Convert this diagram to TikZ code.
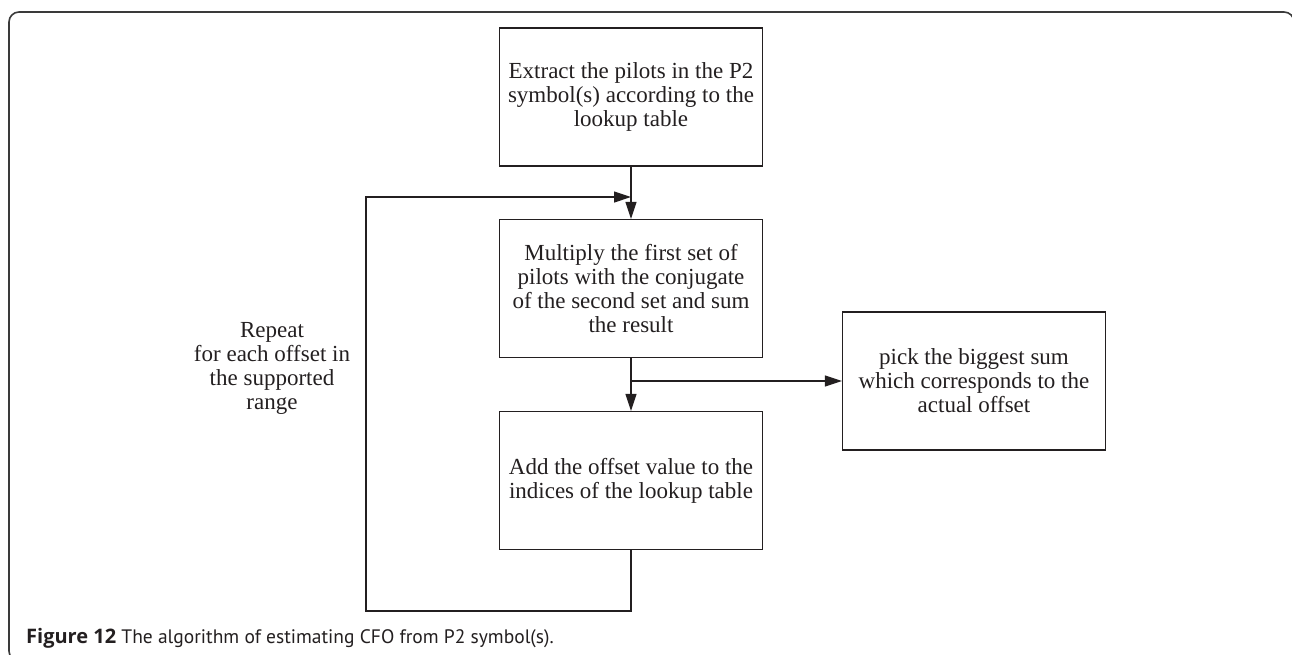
\documentclass[tikz,border=0pt]{standalone}
\usepackage{fontspec}
\setmainfont{Liberation Serif}
\newfontfamily\capfont{PT Sans}
\newfontfamily\capbold{Open Sans}
\usetikzlibrary{arrows.meta}
\definecolor{ink}{HTML}{231F20}
\definecolor{framec}{HTML}{3A3A3A}
\begin{document}
\begin{tikzpicture}[x=1pt,y=-1pt,
  procbox/.style={draw=ink, line width=1.1pt, minimum width=263pt, minimum height=138pt,
    inner sep=0pt, align=center, text=ink, font=\fontsize{23}{24}\selectfont},
  conn/.style={draw=ink, line width=1.2pt},
  arr/.style={conn, -{Triangle[length=17pt,width=11pt]}},
  lbl/.style={align=center, text=ink, font=\fontsize{23}{24}\selectfont, inner sep=0pt}]
\useasboundingbox (0,0) rectangle (1292,654);
\begin{scope}
\clip (0,0) rectangle (1292,654);
\draw[framec, line width=1.6pt, rounded corners=10pt] (9,12) rectangle (1294,661);
\end{scope}

\node[procbox] (b1) at (631,97) {Extract the pilots in the P2\\symbol(s) according to the\\lookup table};
\node[procbox] (b2) at (631,288.5) {Multiply the first set of\\pilots with the conjugate\\of the second set and sum\\the result};
\node[procbox] (b3) at (631,480.5) {Add the offset value to the\\indices of the lookup table};
\node[procbox] (b4) at (974,381) {pick the biggest sum\\which corresponds to the\\actual offset};

\node[lbl] (rep) at (272,368) {Repeat\\for each offset in\\the supported\\range};

\coordinate (loopin) at (631,197);
\coordinate (branch) at (631,381);
\coordinate (lb) at (631,611);
\coordinate (ll) at (366,611);
\coordinate (lt) at (366,197);

\draw[arr] (b1.south) -- (b2.north);
\draw[arr] (b2.south) -- (b3.north);
\draw[arr] (branch) -- (b4.west);
\draw[arr] (b3.south) -- (lb) -- (ll) -- (lt) -- (loopin);

\node[anchor=base west, inner sep=0pt, text=ink, font=\capfont\fontsize{19.5}{24}\selectfont] (cap) at (26,643)
  {{\capbold\bfseries\fontsize{20}{24}\selectfont Figure 12} The algorithm of estimating CFO from P2 symbol(s).};
\end{tikzpicture}
\end{document}
